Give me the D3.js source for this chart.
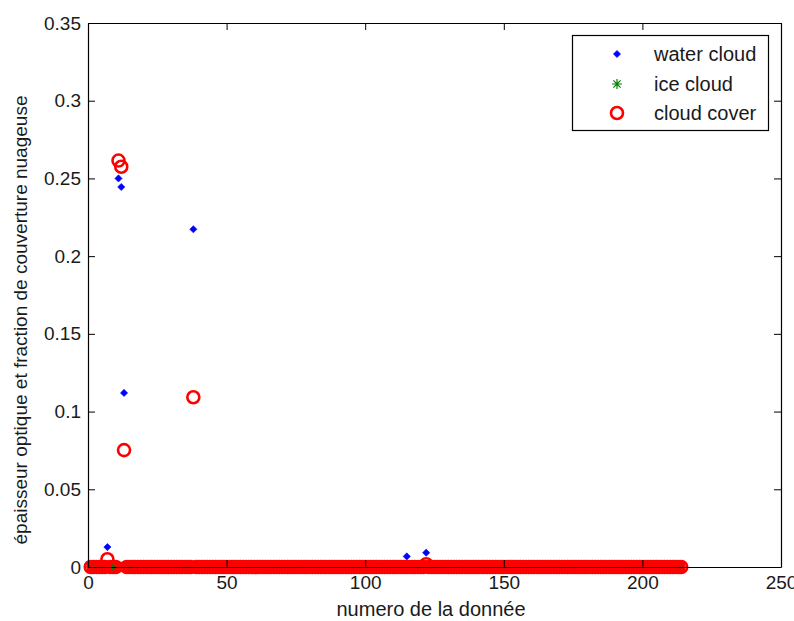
<!DOCTYPE html>
<html>
<head>
<meta charset="utf-8">
<script src="https://cdn.jsdelivr.net/npm/d3@7"></script>
<style>
  html, body { margin: 0; padding: 0; background: #ffffff; }
  svg { display: block; }
  text { font-family: "Liberation Sans", Arial, sans-serif; fill: #1a1a1a; }
</style>
</head>
<body>
<div id="chart"></div>
<script>
// ---------------- data ----------------
// data number ("numero de la donnée") runs from 1 to nPoints
const nPoints = 214;
// all series are zero except at the listed data numbers
const waterCloudIdx = [7, 11, 12, 13, 38, 115, 122];
const waterCloudVal = [0.0128, 0.250, 0.2445, 0.112, 0.2173, 0.0068, 0.0092];
const iceCloudIdx = [];
const iceCloudVal = [];
const cloudCoverIdx = [7, 11, 12, 13, 38, 122];
const cloudCoverVal = [0.005, 0.2615, 0.2575, 0.0752, 0.1092, 0.0018];

const seriesNames = ["water cloud", "ice cloud", "cloud cover"];
const xTickValues = [0, 50, 100, 150, 200, 250];
const xTickLabels = ["0", "50", "100", "150", "200", "250"];
const yTickValues = [0, 0.05, 0.1, 0.15, 0.2, 0.25, 0.3, 0.35];
const yTickLabels = ["0", "0.05", "0.1", "0.15", "0.2", "0.25", "0.3", "0.35"];
const xLabel = "numero de la donnée";
const yLabel = "épaisseur optique et fraction de couverture nuageuse";

function buildSeries(idx, val) {
  const full = d3.range(1, nPoints + 1).map(i => ({ i: i, v: 0 }));
  idx.forEach((k, j) => { full[k - 1].v = val[j]; });
  return full;
}
const water = buildSeries(waterCloudIdx, waterCloudVal);
const ice = buildSeries(iceCloudIdx, iceCloudVal);
const cover = buildSeries(cloudCoverIdx, cloudCoverVal);

// ---------------- layout ----------------
const W = 794, H = 621;
const L = 88, R = 781, T = 23, B = 567;
const fsTick = 19, fsLabel = 20;

const svg = d3.select("#chart").append("svg").attr("width", W).attr("height", H);
svg.append("rect").attr("width", W).attr("height", H).attr("fill", "#fff");

const x = d3.scaleLinear().domain([0, 250]).range([L, R]);
const y = d3.scaleLinear().domain([0, 0.35]).range([B, T]);

const colWater = "#0000ff", colIce = "#008000", colCover = "#ff0000";

function diamond(g, cx, cy) {
  const s = 3.6;
  g.append("path").attr("d", `M${cx},${cy - s}L${cx + s},${cy}L${cx},${cy + s}L${cx - s},${cy}Z`)
    .attr("fill", colWater).attr("stroke", colWater).attr("stroke-width", 0.6);
}
function asterisk(g, cx, cy) {
  const s = 5, d = 3.6;
  g.append("path").attr("d",
    `M${cx - s},${cy}L${cx + s},${cy}M${cx},${cy - s}L${cx},${cy + s}` +
    `M${cx - d},${cy - d}L${cx + d},${cy + d}M${cx - d},${cy + d}L${cx + d},${cy - d}`)
    .attr("stroke", colIce).attr("stroke-width", 1.2).attr("fill", "none");
}
function circle(g, cx, cy) {
  g.append("circle").attr("cx", cx).attr("cy", cy).attr("r", 6)
    .attr("fill", "none").attr("stroke", colCover).attr("stroke-width", 2.6);
}

const plot = svg.append("g");
const gW = plot.append("g"), gI = plot.append("g"), gC = plot.append("g");
water.forEach(d => diamond(gW, x(d.i), y(d.v)));
ice.forEach(d => asterisk(gI, x(d.i), y(d.v)));
cover.forEach(d => circle(gC, x(d.i), y(d.v)));

// ---------------- axes ----------------
const tk = 7;
const axB = svg.append("g").attr("transform", `translate(0,${B})`)
  .call(d3.axisBottom(x).tickValues(xTickValues).tickFormat((d, i) => xTickLabels[i])
    .tickSizeInner(-tk).tickSizeOuter(0).tickPadding(9));
const axL = svg.append("g").attr("transform", `translate(${L},0)`)
  .call(d3.axisLeft(y).tickValues(yTickValues).tickFormat((d, i) => yTickLabels[i])
    .tickSizeInner(-tk).tickSizeOuter(0).tickPadding(7));
const axT = svg.append("g").attr("transform", `translate(0,${T})`)
  .call(d3.axisTop(x).tickValues(xTickValues).tickFormat("")
    .tickSizeInner(-tk).tickSizeOuter(0));
const axR = svg.append("g").attr("transform", `translate(${R},0)`)
  .call(d3.axisRight(y).tickValues(yTickValues).tickFormat("")
    .tickSizeInner(-tk).tickSizeOuter(0));
[axB, axL, axT, axR].forEach(a => {
  a.selectAll("path.domain").attr("stroke", "#000").attr("stroke-width", 1.2);
  a.selectAll(".tick line").attr("stroke", "#000").attr("stroke-width", 1);
  a.selectAll("text").attr("font-size", fsTick).attr("font-family", "Liberation Sans, Arial, sans-serif").attr("fill", "#222");
});

svg.append("text").attr("x", 431).attr("y", 616).attr("text-anchor", "middle")
  .attr("font-size", fsLabel).text(xLabel);
svg.append("text").attr("transform", `translate(27,320) rotate(-90)`)
  .attr("text-anchor", "middle").attr("font-size", 19).text(yLabel);

// ---------------- legend ----------------
const lg = svg.append("g");
lg.append("rect").attr("x", 572.5).attr("y", 35.5).attr("width", 196).attr("height", 95)
  .attr("fill", "#fff").attr("stroke", "#000").attr("stroke-width", 1.2);
const rowY = [54, 84, 113];
const mx = 617;
diamond(lg, mx, rowY[0]);
asterisk(lg, mx, rowY[1]);
circle(lg, mx, rowY[2]);
seriesNames.forEach((n, i) => {
  lg.append("text").attr("x", 654).attr("y", rowY[i]).attr("dy", "0.35em")
    .attr("font-size", fsLabel).text(n);
});
</script>
</body>
</html>
